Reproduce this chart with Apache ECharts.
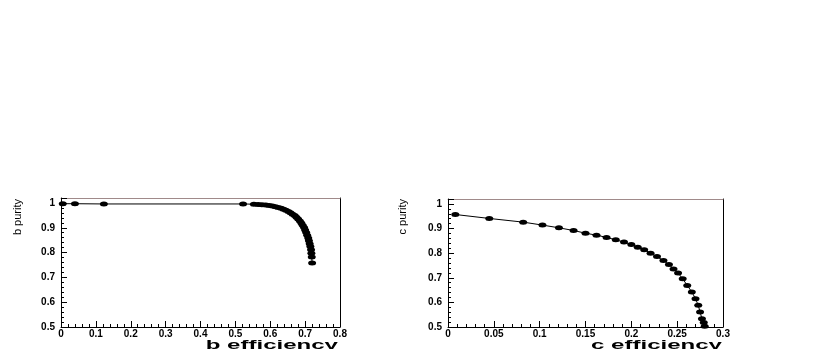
<!DOCTYPE html>
<html>
<head>
<meta charset="utf-8">
<title>b / c purity vs efficiency</title>
<script src="https://cdn.jsdelivr.net/npm/echarts@6/dist/echarts.min.js"></script>
<style>
    html, body { margin: 0; padding: 0; background: #fff; }
    #chart { width: 830px; height: 349px; }
</style>
</head>
<body>
<div id="chart"></div>
<script>
// b 标记曲线
var bEff = [0.005, 0.040, 0.123, 0.522, 0.553, 0.565, 0.576, 0.587, 0.597, 0.606,
            0.615, 0.623, 0.631, 0.638, 0.645, 0.652, 0.658, 0.664, 0.670, 0.675,
            0.680, 0.685, 0.689, 0.693, 0.697, 0.700, 0.703, 0.706, 0.709, 0.711,
            0.713, 0.715, 0.717, 0.718, 0.719, 0.720];
var bPur = [0.997, 0.997, 0.996, 0.996, 0.995, 0.994, 0.993, 0.992, 0.990, 0.988,
            0.985, 0.982, 0.979, 0.975, 0.971, 0.966, 0.961, 0.955, 0.949, 0.942,
            0.935, 0.927, 0.919, 0.910, 0.901, 0.891, 0.881, 0.870, 0.859, 0.848,
            0.836, 0.824, 0.811, 0.797, 0.782, 0.758];

// c 标记曲线
var cEff = [0.008, 0.045, 0.082, 0.103, 0.121, 0.137, 0.150, 0.162, 0.173, 0.183,
            0.192, 0.200, 0.207, 0.214, 0.221, 0.228, 0.235, 0.241, 0.246, 0.251,
            0.256, 0.261, 0.266, 0.270, 0.273, 0.275, 0.277, 0.279, 0.280];
var cPur = [0.957, 0.941, 0.926, 0.914, 0.903, 0.892, 0.881, 0.873, 0.864, 0.854,
            0.845, 0.835, 0.824, 0.814, 0.800, 0.786, 0.770, 0.754, 0.736, 0.719,
            0.696, 0.669, 0.642, 0.615, 0.588, 0.561, 0.534, 0.518, 0.503];

// 坐标轴刻度
var bTicks = { min: 0, max: 0.8, step: 0.1 };
var cTicks = { min: 0, max: 0.3, step: 0.05 };
var purTicks = { min: 0.5, max: 1.02, step: 0.1 };

function pairs(xs, ys) {
    var out = [];
    for (var i = 0; i < xs.length; i++) {
        out.push([xs[i], ys[i]]);
    }
    return out;
}

var labelFont = {
    color: '#000',
    fontFamily: 'Liberation Sans',
    fontWeight: 'bold',
    fontSize: 10
};

function xAxisOf(grid, t) {
    return {
        type: 'value', gridIndex: grid, position: 'bottom',
        min: t.min, max: t.max, interval: t.step,
        splitLine: { show: false },
        axisLine: { onZero: false, lineStyle: { color: '#000', width: 1 } },
        axisTick: { inside: true, length: 6, lineStyle: { color: '#000' } },
        minorTick: { show: true, splitNumber: 5, length: 3, lineStyle: { color: '#000' } },
        axisLabel: Object.assign({ margin: 2, showMaxLabel: true }, labelFont)
    };
}

function yAxisOf(grid) {
    return {
        type: 'value', gridIndex: grid, position: 'left',
        min: purTicks.min, max: purTicks.max, interval: purTicks.step,
        splitLine: { show: false },
        axisLine: { onZero: false, lineStyle: { color: '#000', width: 1 } },
        axisTick: { inside: true, length: 6, lineStyle: { color: '#000' } },
        minorTick: { show: true, splitNumber: 5, length: 3, lineStyle: { color: '#000' } },
        axisLabel: Object.assign({
            margin: 6,
            formatter: function (v) {
                // 只显示 0.1 的整倍数
                if (v > 1.001) return '';
                return Math.abs(v - 1) < 1e-6 ? '1' : v.toFixed(1);
            }
        }, labelFont)
    };
}

// 上边框和右边框
function frameX(grid, t) {
    return {
        type: 'value', gridIndex: grid, position: 'top', min: t.min, max: t.max,
        axisLine: { onZero: false, lineStyle: { color: '#a08a8a', width: 1 } },
        axisTick: { show: false }, axisLabel: { show: false }, splitLine: { show: false }
    };
}
function frameY(grid) {
    return {
        type: 'value', gridIndex: grid, position: 'right', min: purTicks.min, max: purTicks.max,
        axisLine: { show: true, onZero: false, lineStyle: { color: '#000', width: 1 } },
        axisTick: { show: false }, axisLabel: { show: false }, splitLine: { show: false }
    };
}

function seriesOf(name, grid, data) {
    return {
        name: name, type: 'line',
        xAxisIndex: grid * 2, yAxisIndex: grid * 2,
        data: data,
        symbol: 'circle', symbolSize: [8, 5],
        showAllSymbol: true,
        itemStyle: { color: '#000' },
        lineStyle: { color: '#000', width: 1 },
        animation: false
    };
}

function titleText(text, x, y, rotated, sx) {
    return {
        type: 'text', x: x, y: y,
        rotation: rotated ? Math.PI / 2 : 0,
        scaleX: rotated ? 1 : sx, scaleY: rotated ? sx : 1,
        style: {
            text: text,
            fill: '#000',
            font: rotated ? '11px "Liberation Sans"' : 'bold 13px "Liberation Sans"',
            textAlign: 'right',
            textVerticalAlign: rotated ? 'middle' : 'bottom'
        }
    };
}

var chart = echarts.init(document.getElementById('chart'));

var option = {
    backgroundColor: '#fff',
    animation: false,
    grid: [
        { left: 61, top: 198, width: 279, height: 129 },
        { left: 448, top: 199, width: 275, height: 128 }
    ],
    xAxis: [xAxisOf(0, bTicks), frameX(0, bTicks), xAxisOf(1, cTicks), frameX(1, cTicks)],
    yAxis: [yAxisOf(0), frameY(0), yAxisOf(1), frameY(1)],
    series: [
        seriesOf('b', 0, pairs(bEff, bPur)),
        seriesOf('c', 1, pairs(cEff, cPur))
    ],
    graphic: [
        titleText('b efficiency', 338, 352, false, 1.85),
        titleText('b purity', 18, 199, true, 1),
        titleText('c efficiency', 722, 352, false, 1.85),
        titleText('c purity', 403, 199, true, 1)
    ]
};

chart.setOption(option);
</script>
</body>
</html>
